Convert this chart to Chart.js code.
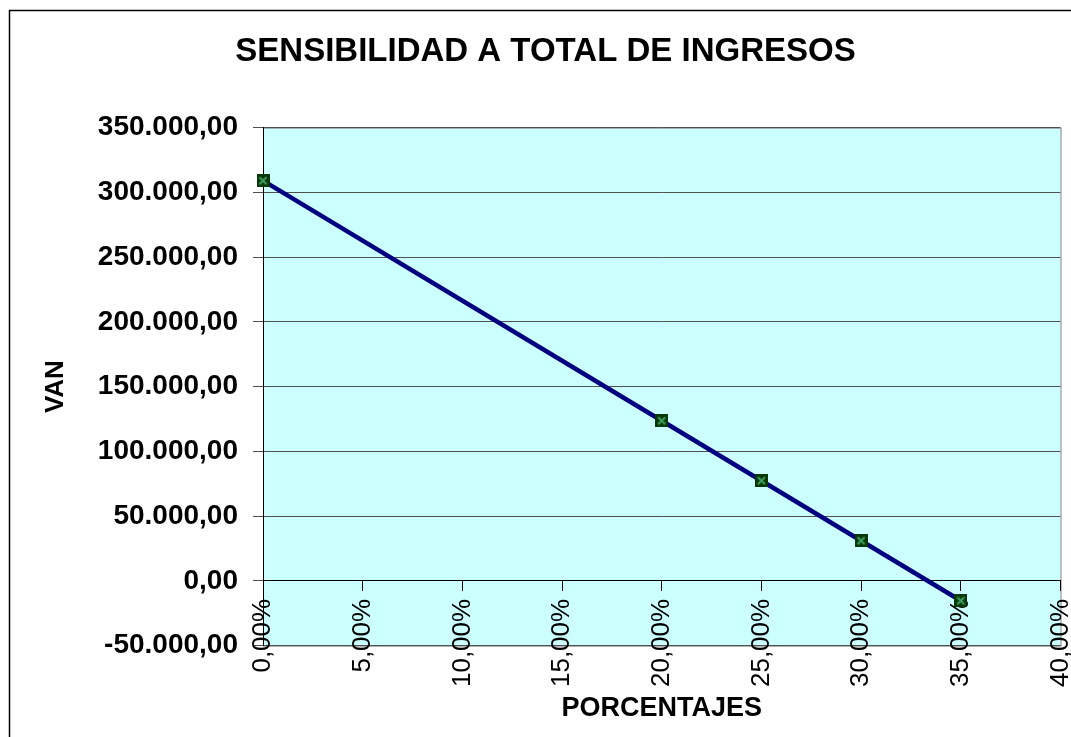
<!DOCTYPE html>
<html>
<head>
<meta charset="utf-8">
<script src="https://cdn.jsdelivr.net/npm/chart.js@4"></script>
<style>
  body { margin: 0; background: #fff; }
  canvas { display: block; }
</style>
</head>
<body>
<canvas id="graph" width="1071" height="737"></canvas>
<script>
// data
const porcentajes = [0, 20, 25, 30, 35];
const van = [309000, 123600, 77300, 31000, -15400];
const titulo = 'SENSIBILIDAD A TOTAL DE INGRESOS';
const tituloX = 'PORCENTAJES';
const tituloY = 'VAN';

const FONT = 'Arial, "Liberation Sans", sans-serif';

// 1.234,00 style numbers
function formatVan(v) {
  const s = Math.abs(v).toFixed(0).replace(/\B(?=(\d{3})+(?!\d))/g, '.');
  return (v < 0 ? '-' : '') + s + ',00';
}
function formatPct(v) {
  return v.toFixed(2).replace('.', ',') + '%';
}

// excel style marker: dark green square with a light x
const marker = document.createElement('canvas');
marker.width = 13;
marker.height = 13;
let mctx = marker.getContext('2d');
mctx.fillStyle = '#083808';
mctx.fillRect(0, 0, 13, 13);
mctx.strokeStyle = '#3f9f60';
mctx.lineWidth = 2;
mctx.beginPath();
mctx.moveTo(3, 3); mctx.lineTo(10, 10);
mctx.moveTo(10, 3); mctx.lineTo(3, 10);
mctx.stroke();

const plotArea = {
  id: 'plotArea',
  beforeDraw(chart) {
    const {ctx, chartArea: a} = chart;
    ctx.save();
    // outer frame
    ctx.strokeStyle = '#000';
    ctx.lineWidth = 1.5;
    ctx.strokeRect(9.5, 10.5, 1100, 800);
    ctx.fillStyle = '#CCFFFF';
    ctx.fillRect(a.left, a.top, a.right - a.left, a.bottom - a.top);
    ctx.strokeStyle = '#808080';
    ctx.lineWidth = 1;
    ctx.strokeRect(a.left + 0.5, a.top + 0.5, a.right - a.left, a.bottom - a.top);
    ctx.restore();
  }
};

const ctx = document.getElementById('graph').getContext('2d');

new Chart(ctx, {
  type: 'scatter',
  data: {
    datasets: [{
      label: tituloY,
      data: porcentajes.map((p, i) => ({x: p, y: van[i]})),
      showLine: true,
      borderColor: '#000080',
      borderWidth: 4.5,
      pointStyle: marker,
      pointRadius: 6,
      clip: false
    }]
  },
  options: {
    responsive: false,
    animation: false,
    devicePixelRatio: 1,
    layout: { padding: {left: 30, right: 10, top: 0, bottom: 0} },
    plugins: {
      legend: { display: false },
      tooltip: { enabled: false },
      title: {
        display: true,
        text: titulo,
        color: '#000',
        font: { family: FONT, size: 33, weight: 'bold' },
        padding: { top: 32, bottom: 56 }
      }
    },
    scales: {
      x: {
        type: 'linear',
        position: { y: 0 },
        min: 0,
        max: 40,
        grid: { drawOnChartArea: false, drawTicks: true, tickLength: 10, color: '#000' },
        border: { display: true, color: '#000' },
        ticks: {
          stepSize: 5,
          autoSkip: false,
          minRotation: 90,
          maxRotation: 90,
          padding: 8,
          color: '#000',
          font: { family: FONT, size: 26 },
          callback: v => formatPct(v)
        },
        afterFit(s) { s.paddingLeft = 0; s.paddingRight = 0; }
      },
      xTitulo: {
        type: 'linear',
        position: 'bottom',
        min: 0,
        max: 40,
        grid: { display: false },
        border: { display: false },
        ticks: { display: false },
        title: {
          display: true,
          text: tituloX,
          color: '#000',
          font: { family: FONT, size: 27, weight: 'bold' },
          padding: { top: 39, bottom: 12 }
        },
        afterFit(s) { s.paddingLeft = 0; s.paddingRight = 0; }
      },
      y: {
        min: -50000,
        max: 350000,
        grid: { color: '#505050', tickLength: 10 },
        border: { display: true, color: '#000' },
        ticks: {
          stepSize: 50000,
          padding: 15,
          color: '#000',
          font: { family: FONT, size: 28, weight: 'bold' },
          callback: v => formatVan(v)
        },
        title: {
          display: true,
          text: tituloY,
          color: '#000',
          font: { family: FONT, size: 26, weight: 'bold' },
          padding: { top: 10, bottom: 0 }
        },
        afterFit(s) { s.width = 233; }
      }
    }
  },
  plugins: [plotArea]
});
</script>
</body>
</html>
